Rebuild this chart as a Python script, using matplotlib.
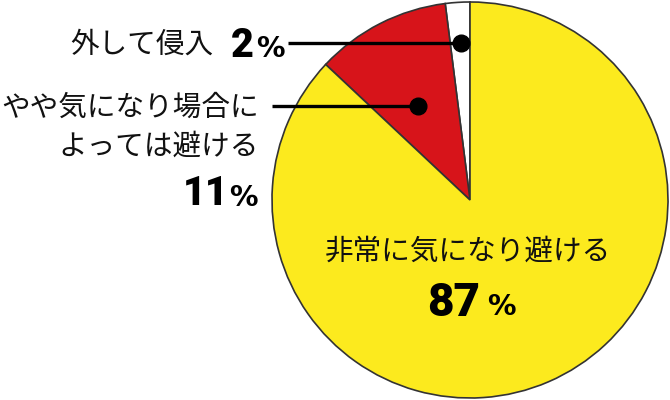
from matplotlib import pyplot as plt

# share of answers (counterclockwise from 12 o'clock)
labels = ['外して侵入', 'やや気になり場合に\nよっては避ける', '非常に気になり避ける']
values = [2, 11, 87]
colors = ['#ffffff', '#d7141a', '#fcea1e']

plt.rcParams['font.family'] = ['Noto Sans CJK JP', 'DejaVu Sans']

fig = plt.figure(figsize=(6.7, 4), dpi=100)
ax = fig.add_axes([0, 0, 1, 1])

H = 400  # convert pixel rows (from top) to data y


def Y(y):
    return H - y


ax.pie(values, colors=colors, startangle=90, counterclock=True,
       center=(470, Y(200)), radius=198, frame=True,
       wedgeprops=dict(edgecolor='#333333', linewidth=1.2))
ax.set_xlim(0, 670)
ax.set_ylim(0, 400)
ax.set_aspect('equal')
ax.axis('off')

txt = dict(fontsize=20.6, color='#111111', va='center')
num_font = ['Roboto', 'DejaVu Sans']
num = dict(fontsize=28.5, color='#000000', va='baseline', ha='right',
           fontweight='black', family=num_font)
pct = dict(fontsize=20.5, color='#000000', va='baseline', ha='left',
           fontweight='bold', family=['DejaVu Sans'])

# 2% slice label
ax.text(213, Y(45), labels[0], ha='right', **txt)
ax.text(254, Y(57), str(values[0]), **num)
ax.text(256, Y(57), '%', **pct)
ax.plot([288, 461], [Y(43), Y(43)], color='black', lw=2.4, solid_capstyle='butt')
ax.plot(461, Y(43), 'o', color='black', ms=12)

# 11% slice label
line1, line2 = labels[1].split('\n')
ax.text(259, Y(108), line1, ha='right', **txt)
ax.text(259, Y(147), line2, ha='right', **txt)
ax.text(229, Y(205), str(values[1]), **num)
ax.text(229, Y(206), '%', **pct)
ax.plot([272, 418], [Y(106), Y(106)], color='black', lw=2.4, solid_capstyle='butt')
ax.plot(418, Y(106), 'o', color='black', ms=12)

# 87% slice label
ax.text(480, Y(316), str(values[2]), fontsize=33, color='#000000',
        va='baseline', ha='right', fontweight='black', family=num_font)
ax.text(468, Y(252), labels[2], ha='center', **txt)
ax.text(487, Y(315), '%', **pct)

fig.savefig('out.png', dpi=100)
